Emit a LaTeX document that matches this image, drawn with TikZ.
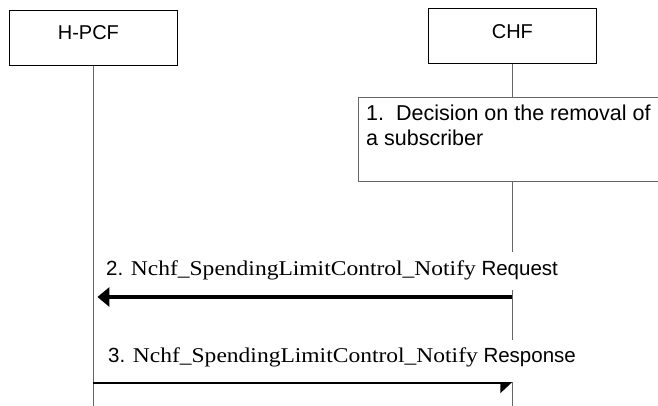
\documentclass[tikz,border=0pt]{standalone}
\usepackage{fontspec}
\setmainfont{Liberation Sans}
\newfontfamily\timesfont[FakeStretch=1.12]{Liberation Serif}
\usetikzlibrary{arrows.meta}
\begin{document}
\begin{tikzpicture}[x=1pt,y=-1pt,
  entity/.style={draw, line width=0.8pt, minimum width=168pt, minimum height=55pt, inner sep=0pt, font=\fontsize{20}{24}\selectfont},
  lifeline/.style={draw=black!60, line width=1pt},
  stepbox/.style={draw=black!60, line width=1.2pt, minimum width=360pt, minimum height=84pt, inner sep=0pt},
  msg/.style={fill=white, inner xsep=2pt, font=\fontsize{20.5}{24}\selectfont},
  steptext/.style={font=\fontsize{21.5}{25}\selectfont, align=left, inner sep=0pt}
]
\useasboundingbox (0,0) rectangle (658,406);
% entities
\node[entity, anchor=north west, text height=13pt, text depth=10pt] (hpcf) at (9,10) {H-PCF\hspace*{10pt}};
\node[entity, anchor=north west, text height=13pt, text depth=8pt] (chf) at (428,8) {CHF};
% lifeline ends
\coordinate (hpcfend) at (hpcf.south |- 0,406);
\coordinate (chfend) at (chf.south |- 0,406);
% step box
\node[stepbox, anchor=north west] (step1) at (358,97) {};
\draw[lifeline] (hpcf.south) -- (hpcfend);
\draw[lifeline] (chf.south) -- (chf.south |- step1.north);
\draw[lifeline] (chf.south |- step1.south) -- (chfend);
\node[steptext, anchor=north west] (s1text) at (366,105) {1.\ \ Decision on the removal of\\a subscriber};
% labels
\node[msg, anchor=base west, text height=18pt, text depth=10pt, inner ysep=5pt] (lab2) at (104,275)
  {2. {\fontsize{21}{24}\timesfont Nchf\_SpendingLimitControl\_Notify} Request};
\node[msg, anchor=base west, text height=17pt, text depth=15pt, inner ysep=5pt] (lab3) at (106,362)
  {3. {\fontsize{21}{24}\timesfont Nchf\_SpendingLimitControl\_Notify} Response};
% messages
\coordinate (m2s) at (chf.south |- 0,297);
\coordinate (m2e) at (hpcf.south |- 0,297);
\coordinate (m3s) at (hpcf.south |- 0,383);
\coordinate (m3e) at (chf.south |- 0,383);
\draw[line width=3.5pt, -{Triangle[length=12pt,width=19pt]}, shorten >=4pt] (m2s) -- (m2e);
\draw[line width=2pt, -{Triangle[length=11pt,width=20pt,right]}] (m3s) -- (m3e);
\end{tikzpicture}
\end{document}
